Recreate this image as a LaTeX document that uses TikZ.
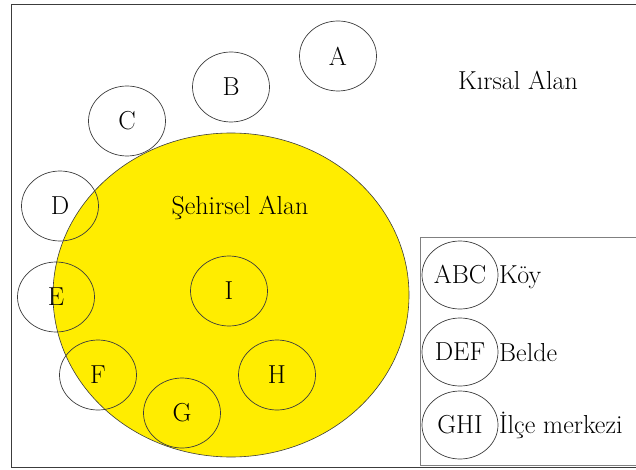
\documentclass[tikz,border=0pt]{standalone}
\usepackage{fontspec}
\usetikzlibrary{positioning}
\usetikzlibrary{shapes.geometric}
\definecolor{cityyellow}{RGB}{255,237,0}
\definecolor{inkgray}{RGB}{60,60,60}
\tikzset{
	every node/.style={font=\fontsize{26}{30}\selectfont},
	place/.style={draw=inkgray,ellipse,line width=0.7pt,minimum width=77pt,minimum height=70pt,inner sep=0pt},
	legplace/.style={place,minimum width=76pt,minimum height=68pt},
	legtext/.style={anchor=base west,inner sep=0pt},
}

\begin{document}
\begin{tikzpicture}[x=1pt,y=-1pt]
			\useasboundingbox (0,0) rectangle (636,470);
			
			% outer frame....................
			\draw [inkgray,line width=0.8pt] (636,4) -- (11,4) -- (11,467) -- (636,467);
			
			% urban area.....................
			\filldraw [fill=cityyellow,draw=inkgray,line width=0.6pt] (231,295) ellipse [x radius=178,y radius=162];
			\node (urban) at (240,208) {Şehirsel Alan};
			\node (rural) at (518,80) {Kırsal Alan};
			
			% villages........................
			\node [place] (A) at (338,56) {A};
			\node [place] (B) at (231,87) {B};
			\node [place] (C) at (127,121) {C};
			
			% towns...........................
			\node [place] (D) at (60,206) {D};
			\node [place] (E) at (56,297) {E};
			\node [place] (F) at (98,375) {F};
			
			% district centres................
			\node [place] (G) at (182,413) {G};
			\node [place] (H) at (277,375) {H};
			\node [place] (I) at (229,291) {I};
			
			% legend..........................
			\draw [gray,line width=0.8pt] (636,237) -- (420,237) -- (420,465) -- (636,465);
			\node [legplace] (abc) at (460,275) {ABC};
			\node [legplace] (def) at (460,352) {DEF};
			\node [legplace] (ghi) at (460,425) {GHI};
			\node [legtext] (koy) at (499,283) {Köy};
			\node [legtext] (belde) at (499,361) {Belde};
			\node [legtext] (ilce) at (499,433) {İlçe merkezi};
		\end{tikzpicture}
\end{document}
